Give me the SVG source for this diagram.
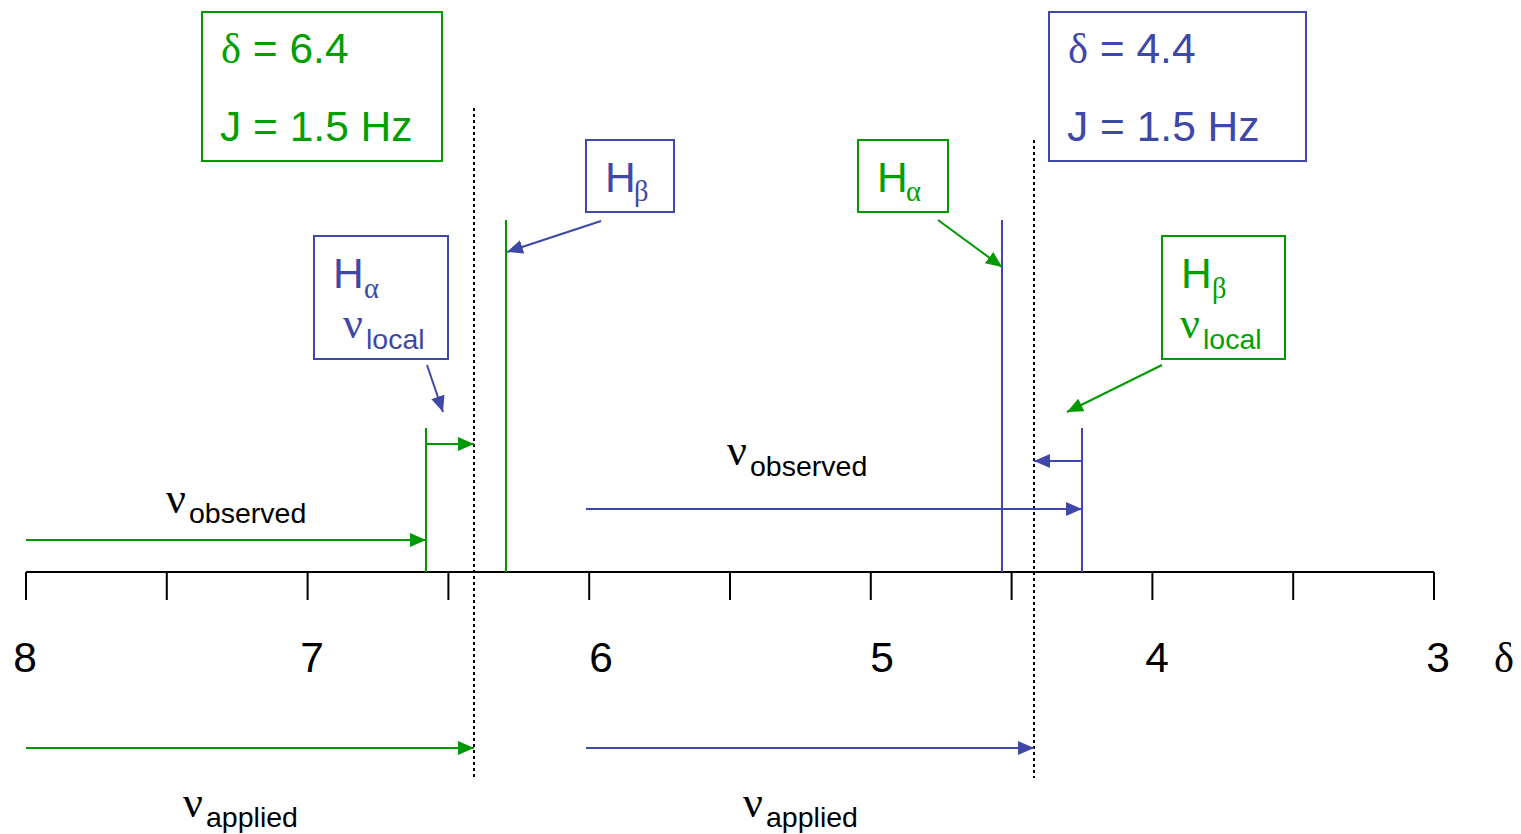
<svg xmlns="http://www.w3.org/2000/svg" width="1521" height="834" viewBox="0 0 1521 834">
<style>
.sans{font-family:"Liberation Sans",Arial,sans-serif}
.serif{font-family:"Liberation Serif","Times New Roman",serif}
.g{fill:#00A000}
.b{fill:#3F47A8}
.k{fill:#000}
.gbox{fill:#fff;stroke:#009900;stroke-width:2}
.bbox{fill:#fff;stroke:#3F47A8;stroke-width:2}
.gl{stroke:#009900;stroke-width:2;fill:none}
.bl{stroke:#3F47A8;stroke-width:2;fill:none}
.axis{stroke:#000;stroke-width:2;fill:none}
.dot{stroke:#000;stroke-width:2;stroke-dasharray:3 3;fill:none}
.big{font-size:42.5px}
.sub{font-size:28.5px}
.nu{font-size:44px}
</style>
<defs>
<marker id="ag" markerUnits="userSpaceOnUse" markerWidth="17" markerHeight="15" refX="16" refY="7" orient="auto" viewBox="0 0 17 14"><path d="M0,0 L16,7 L0,14 z" fill="#009900"/></marker>
<marker id="ab" markerUnits="userSpaceOnUse" markerWidth="17" markerHeight="15" refX="16" refY="7" orient="auto" viewBox="0 0 17 14"><path d="M0,0 L16,7 L0,14 z" fill="#3F47A8"/></marker>
</defs>
<rect width="1521" height="834" fill="#fff"/>

<g id="axis">
<line class="axis" x1="26" y1="572" x2="1434" y2="572"/>
<path class="axis" d="M26,572V600 M166.8,572V600 M307.6,572V600 M448.4,572V600 M589.2,572V600 M730,572V600 M870.8,572V600 M1011.6,572V600 M1152.4,572V600 M1293.2,572V600 M1434,572V600"/>
<g class="sans big k" text-anchor="middle">
<text x="25" y="672">8</text>
<text x="312" y="672">7</text>
<text x="601" y="672">6</text>
<text x="882" y="672">5</text>
<text x="1157" y="672">4</text>
<text x="1438" y="672">3</text>
</g>
<text class="serif big k" x="1504" y="672" text-anchor="middle">δ</text>
</g>

<g id="reference-lines">
<line class="dot" x1="474" y1="108" x2="474" y2="778"/>
<line class="dot" x1="1034" y1="140" x2="1034" y2="778"/>
</g>

<g id="spectral-lines">
<line class="gl" x1="506" y1="220" x2="506" y2="572"/>
<line class="gl" x1="426" y1="428" x2="426" y2="572"/>
<line class="bl" x1="1002" y1="220" x2="1002" y2="572"/>
<line class="bl" x1="1082" y1="428" x2="1082" y2="572"/>
</g>

<g id="box-green-shift">
<rect class="gbox" x="202" y="12" width="240" height="149"/>
<text class="g big" x="221" y="63"><tspan class="serif">δ</tspan><tspan class="sans"> = 6.4</tspan></text>
<text class="g big sans" x="220" y="141">J = 1.5 Hz</text>
</g>

<g id="box-blue-shift">
<rect class="bbox" x="1049" y="12" width="257" height="149"/>
<text class="b big" x="1068" y="63"><tspan class="serif">δ</tspan><tspan class="sans"> = 4.4</tspan></text>
<text class="b big sans" x="1067" y="141">J = 1.5 Hz</text>
</g>

<g id="box-blue-Hbeta">
<rect class="bbox" x="586" y="140" width="88" height="72"/>
<text class="b big sans" x="605" y="192">H</text>
<text class="b sub serif" x="634" y="201">β</text>
</g>

<g id="box-green-Halpha">
<rect class="gbox" x="858" y="140" width="90" height="72"/>
<text class="g big sans" x="877" y="192">H</text>
<text class="g sub serif" x="906" y="201">α</text>
</g>

<g id="box-blue-Halpha-local">
<rect class="bbox" x="314" y="236" width="134" height="123"/>
<text class="b big sans" x="333" y="288">H</text>
<text class="b sub serif" x="364" y="298">α</text>
<text class="b nu serif" x="343" y="338">ν</text>
<text class="b sub sans" x="366" y="349">local</text>
</g>

<g id="box-green-Hbeta-local">
<rect class="gbox" x="1162" y="236" width="123" height="123"/>
<text class="g big sans" x="1181" y="288">H</text>
<text class="g sub serif" x="1212" y="298">β</text>
<text class="g nu serif" x="1180" y="338">ν</text>
<text class="g sub sans" x="1203" y="349">local</text>
</g>

<g id="label-observed-green">
<text class="k nu serif" x="166" y="513">ν</text>
<text class="k sub sans" x="189" y="523">observed</text>
</g>
<g id="label-observed-blue">
<text class="k nu serif" x="727" y="465">ν</text>
<text class="k sub sans" x="750" y="476">observed</text>
</g>
<g id="label-applied-green">
<text class="k nu serif" x="183" y="817">ν</text>
<text class="k sub sans" x="206" y="827">applied</text>
</g>
<g id="label-applied-blue">
<text class="k nu serif" x="743" y="817">ν</text>
<text class="k sub sans" x="766" y="827">applied</text>
</g>

<g id="connectors">
<line class="gl" x1="26" y1="540" x2="426" y2="540" marker-end="url(#ag)"/>
<line class="gl" x1="426" y1="444" x2="474" y2="444" marker-end="url(#ag)"/>
<line class="gl" x1="26" y1="748" x2="474" y2="748" marker-end="url(#ag)"/>
<line class="gl" x1="938" y1="220" x2="1002" y2="267" marker-end="url(#ag)"/>
<line class="gl" x1="1162" y1="365" x2="1067" y2="412" marker-end="url(#ag)"/>
<line class="bl" x1="586" y1="509" x2="1082" y2="509" marker-end="url(#ab)"/>
<line class="bl" x1="1082" y1="461" x2="1034" y2="461" marker-end="url(#ab)"/>
<line class="bl" x1="586" y1="748" x2="1034" y2="748" marker-end="url(#ab)"/>
<line class="bl" x1="601" y1="221" x2="507" y2="252" marker-end="url(#ab)"/>
<line class="bl" x1="427" y1="365" x2="443" y2="412" marker-end="url(#ab)"/>
</g>
</svg>
